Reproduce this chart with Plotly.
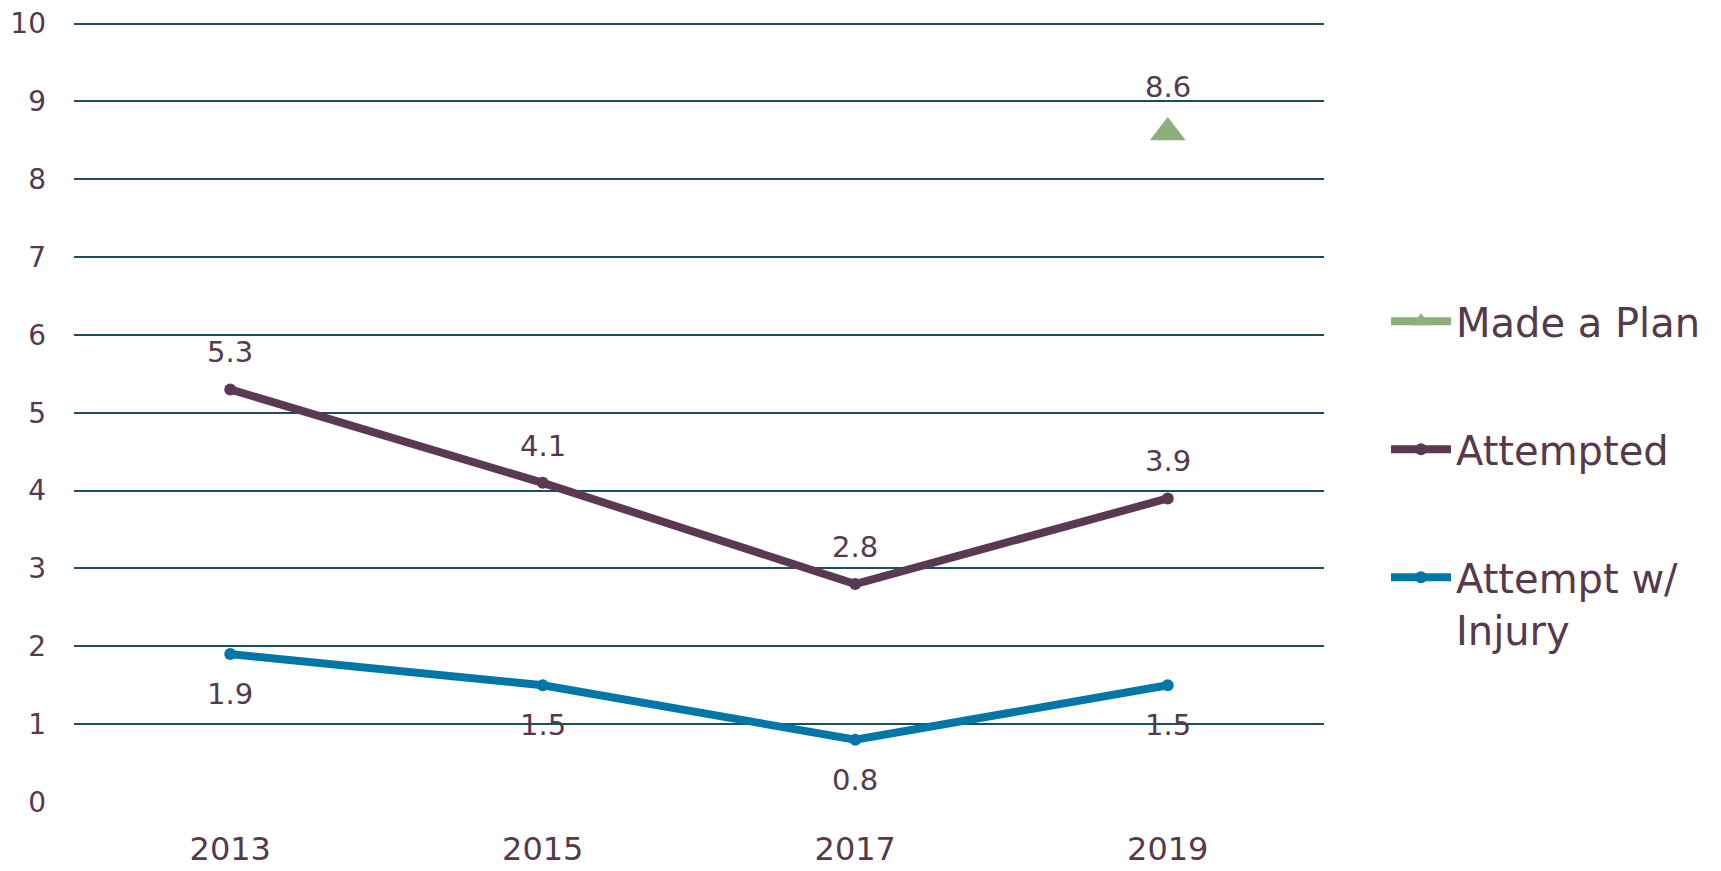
import plotly.graph_objects as go

years = ["2013", "2015", "2017", "2019"]
made_plan = [None, None, None, 8.6]
attempted = [5.3, 4.1, 2.8, 3.9]
attempt_injury = [1.9, 1.5, 0.8, 1.5]
y_ticks = list(range(0, 11))

TEXT = "#553A4E"
PURPLE = "#5A3A52"
BLUE = "#0077A6"
GREEN = "#8DB07A"
GRID = "#1E4D5C"
FONT = "DejaVu Sans"

fig = go.Figure()
fig.add_trace(go.Scatter(
    x=years, y=made_plan, name="Made a Plan", mode="lines+markers",
    line=dict(color=GREEN, width=8),
    marker=dict(symbol="triangle-up", size=31, color=GREEN),
    legendgroup="a", cliponaxis=False))
fig.add_trace(go.Scatter(
    x=years, y=attempted, name="Attempted", mode="lines+markers",
    line=dict(color=PURPLE, width=8),
    marker=dict(symbol="circle", size=12, color=PURPLE),
    legendgroup="b", cliponaxis=False))
fig.add_trace(go.Scatter(
    x=years, y=attempt_injury, name="Attempt w/<br>Injury", mode="lines+markers",
    line=dict(color=BLUE, width=8),
    marker=dict(symbol="circle", size=12, color=BLUE),
    legendgroup="c", cliponaxis=False))

label_font = dict(size=29, color=TEXT, family=FONT)
annotations = []
for i, v in enumerate(made_plan):
    if v is not None:
        annotations.append(dict(x=i, y=v, xref="x", yref="y", text=f"{v}",
                                showarrow=False, yshift=46, font=label_font))
for i, v in enumerate(attempted):
    annotations.append(dict(x=i, y=v, xref="x", yref="y", text=f"{v}",
                            showarrow=False, yshift=37, font=label_font))
for i, v in enumerate(attempt_injury):
    annotations.append(dict(x=i, y=v, xref="x", yref="y", text=f"{v}",
                            showarrow=False, yshift=-40, font=label_font))

fig.update_layout(
    width=1713, height=863,
    margin=dict(l=66, r=397, t=14, b=69),
    paper_bgcolor="white", plot_bgcolor="white",
    font=dict(family=FONT, color=TEXT),
    annotations=annotations,
    showlegend=True,
    legend=dict(
        x=1.0496, xanchor="left", y=0.658, yanchor="top",
        font=dict(size=40, color=TEXT, family=FONT),
        tracegroupgap=73, valign="top", itemwidth=60,
        bgcolor="rgba(0,0,0,0)",
    ),
    xaxis=dict(
        type="category", categoryorder="array", categoryarray=years,
        range=[-0.5, 3.5], showgrid=False, showline=False, zeroline=False,
        ticks="", tickfont=dict(size=32, color=TEXT, family=FONT),
        ticklabelstandoff=25, automargin=False, ticklabeloverflow="allow",
    ),
    yaxis=dict(
        range=[0, 10.02], tickvals=y_ticks, showgrid=True, gridcolor=GRID, gridwidth=2,
        zeroline=True, zerolinecolor="white", zerolinewidth=3,
        showline=False, ticks="", tickfont=dict(size=28, color=TEXT, family=FONT),
        ticklabelstandoff=27, automargin=False, ticklabeloverflow="allow",
    ),
)

fig.write_html("out.html")
